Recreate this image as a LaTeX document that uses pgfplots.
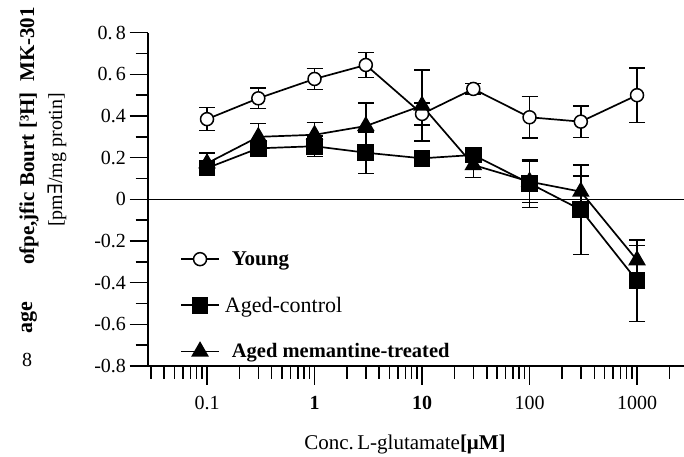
\documentclass[border=0pt]{standalone}
\usepackage{pgfplots}
\pgfplotsset{compat=1.18}
\usepackage{fontspec}
\setmainfont{Liberation Serif}
\newfontfamily\dvs{DejaVu Serif}

\pgfplotstableread{
x y e
0.1 0.385 0.055
0.3 0.485 0.05
1 0.578 0.05
3 0.645 0.06
10 0.41 0.053
30 0.53 0.025
100 0.394 0.1
300 0.373 0.075
1000 0.50 0.13
}\young
\pgfplotstableread{
x y e
0.1 0.15 0.03
0.3 0.245 0.03
1 0.255 0.05
3 0.224 0.1
10 0.197 0.02
30 0.213 0.03
100 0.077 0.115
300 -0.05 0.215
1000 -0.391 0.195
}\agedc
\pgfplotstableread{
x y e
0.1 0.173 0.05
0.3 0.30 0.065
1 0.31 0.06
3 0.352 0.11
10 0.45 0.17
30 0.165 0.06
100 0.085 0.1
300 0.037 0.075
1000 -0.292 0.07
}\agedm

\begin{document}
\begin{tikzpicture}
\useasboundingbox (0,0) rectangle (684pt,456pt);
\begin{axis}[
  at={(148pt,90pt)}, anchor=south west,
  scale only axis, width=536pt, height=333.3pt,
  xmode=log, xmin=0.02825, xmax=2735,
  ymin=-0.8, ymax=0.8,
  axis x line*=bottom, axis y line*=left,
  axis line style={line width=1.5pt},
  tick align=outside,
  major tick length=18.5pt, minor tick length=12.5pt,
  tick style={black, line width=1.5pt},
  xtick={0.1,1,10,100,1000},
  xticklabels={0.1,\textbf{1},\textbf{10},100,1000},
  minor xtick={0.03,0.04,0.05,0.06,0.07,0.08,0.09,0.2,0.3,0.4,0.5,0.6,0.7,0.8,0.9,2,3,4,5,6,7,8,9,20,30,40,50,60,70,80,90,200,300,400,500,600,700,800,900,2000},
  ytick={-0.8,-0.6,-0.4,-0.2,0,0.2,0.4,0.6,0.8},
  yticklabels={-0.8,-0.6,-0.4,-0.2,0,0.2,0.4,0.\,6,0.\,8},
  minor ytick={-0.7,-0.5,-0.3,-0.1,0.1,0.3,0.5,0.7},
  ticklabel style={font=\fontsize{20}{24}\selectfont},
  xticklabel style={yshift=-8pt},
  /pgf/number format/assume math mode=true,
  clip=false,
  legend image code/.code={\draw[mark repeat=2,mark phase=2] plot coordinates {(0pt,0pt) (19pt,0pt) (38pt,0pt)};},
  legend style={draw=none, fill=none, at={(rel axis cs:0.0597,0.35)}, anchor=north west,
    row sep=26pt, column sep=5pt, inner sep=0pt,
    nodes={inner xsep=0pt, inner ysep=2pt}},
  legend cell align=left,
]
\addplot[forget plot, line width=1.3pt] coordinates {(0.02825,0) (2735,0)};

\addplot[black, line width=1.7pt, mark=*, mark size=6.5pt, mark options={fill=white, draw=black, line width=1.5pt},
  error bars/.cd, y dir=both, y explicit, error bar style={line width=1.5pt}, error mark options={rotate=90, line width=1.5pt, mark size=8pt}]
  table[x=x, y=y, y error=e] {\young};
\addlegendentry{\hspace{7pt}\fontsize{21}{24}\selectfont\textbf{Young}}

\addplot[black, line width=1.7pt, mark=square*, mark size=7.5pt, mark options={fill=black},
  error bars/.cd, y dir=both, y explicit, error bar style={line width=1.5pt}, error mark options={rotate=90, line width=1.5pt, mark size=8pt}]
  table[x=x, y=y, y error=e] {\agedc};
\addlegendentry{\fontsize{22}{24}\selectfont Aged-control}

\addplot[black, line width=1.7pt, mark=triangle*, mark size=8.5pt, mark options={fill=black},
  error bars/.cd, y dir=both, y explicit, error bar style={line width=1.5pt}, error mark options={rotate=90, line width=1.5pt, mark size=8pt}]
  table[x=x, y=y, y error=e] {\agedm};
\addlegendentry{\hspace{7pt}\fontsize{20.5}{24}\selectfont\textbf{Aged memantine-treated}}
\end{axis}

\node[font=\fontsize{21}{24}\selectfont] at (405pt,12pt) {Conc.\,L-glutamate\textbf{[μM]}};
\node[rotate=90, font=\fontsize{22}{24}\selectfont\bfseries] at (29pt,138pt) {age};
\node[rotate=90, font=\fontsize{21}{24}\selectfont\bfseries] at (29pt,320pt) {ofpe,jfic Bourt [³H]\ \ MK-301};
\node[rotate=90, font=\fontsize{20}{24}\selectfont] at (57pt,296pt) {[pm{\dvs ∃}/mg protin]};
\node[font=\fontsize{20}{24}\selectfont] at (27pt,96pt) {8};
\end{tikzpicture}
\end{document}
